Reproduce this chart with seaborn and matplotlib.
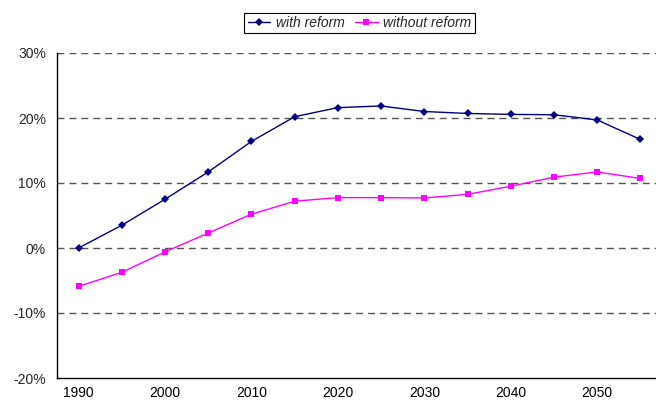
import matplotlib
matplotlib.use("Agg")
import matplotlib.pyplot as plt
from matplotlib.ticker import FixedLocator, PercentFormatter
import seaborn as sns
import pandas as pd

years = [1990, 1995, 2000, 2005, 2010, 2015, 2020, 2025, 2030, 2035, 2040, 2045, 2050, 2055]
with_reform = [0.0, 3.5, 7.5, 11.7, 16.4, 20.2, 21.6, 21.85, 21.0, 20.7, 20.55, 20.5, 19.7, 16.7]
without_reform = [-5.9, -3.75, -0.6, 2.3, 5.2, 7.2, 7.75, 7.75, 7.7, 8.25, 9.5, 10.9, 11.7, 10.7]
series_names = ["with reform", "without reform"]
year_labels = [1990, 2000, 2010, 2020, 2030, 2040, 2050]
pct_ticks = [-20, -10, 0, 10, 20, 30]

df = pd.DataFrame({
    "year": years * 2,
    "value": with_reform + without_reform,
    "series": [series_names[0]] * len(years) + [series_names[1]] * len(years),
})

sns.set_style("white")
plt.rcParams["font.family"] = ["Liberation Sans", "DejaVu Sans"]
plt.rcParams["axes.unicode_minus"] = False

fig = plt.figure(figsize=(6.56, 4.07), dpi=100)
ax = fig.add_axes([57 / 656, 29 / 407, 605 / 656, 325 / 407])

palette = {"with reform": "#000080", "without reform": "#FF00FF"}
markers = {"with reform": "D", "without reform": "s"}
sns.lineplot(data=df, x="year", y="value", hue="series", style="series",
             palette=palette, markers=markers, dashes=False, linewidth=1.0,
             markersize=4.5, markeredgewidth=0, ax=ax)
for line, name in zip(ax.lines, series_names):
    if name == "with reform":
        line.set_markersize(3.8)

ax.set_xlim(1987.5, 2057.5)
ax.set_ylim(-20, 30)
ax.yaxis.set_major_locator(FixedLocator(pct_ticks))
ax.yaxis.set_major_formatter(PercentFormatter(decimals=0))
ax.xaxis.set_major_locator(FixedLocator(year_labels))
ax.xaxis.set_minor_locator(FixedLocator([1987.5 + 5 * k for k in range(15)]))
ax.tick_params(axis="x", which="major", length=0, pad=6, labelsize=10, colors="black")
ax.tick_params(axis="x", which="minor", length=4, width=1, color="black", direction="out")
ax.tick_params(axis="y", which="major", length=4, width=1, color="black",
               direction="out", labelsize=10, pad=4)
ax.set_xlabel("")
ax.set_ylabel("")

for y in pct_ticks[1:]:
    ax.axhline(y, color="#555555", linewidth=1.0, linestyle=(0, (5, 3.6)), zorder=0)

for side in ("top", "right"):
    ax.spines[side].set_visible(False)
for side in ("left", "bottom"):
    ax.spines[side].set_color("black")
    ax.spines[side].set_linewidth(1.0)

handles, labels = ax.get_legend_handles_labels()
ax.legend(handles, labels, loc="center", bbox_to_anchor=(359.5 / 656, 1 - 23 / 407),
          bbox_transform=fig.transFigure, ncol=2, frameon=True, fancybox=False,
          edgecolor="black", framealpha=1, prop={"style": "italic", "size": 10},
          handlelength=1.6, handletextpad=0.4, columnspacing=0.8,
          borderpad=0.25, borderaxespad=0)
ax.get_legend().get_frame().set_linewidth(0.8)

fig.savefig("out.png", dpi=100)
